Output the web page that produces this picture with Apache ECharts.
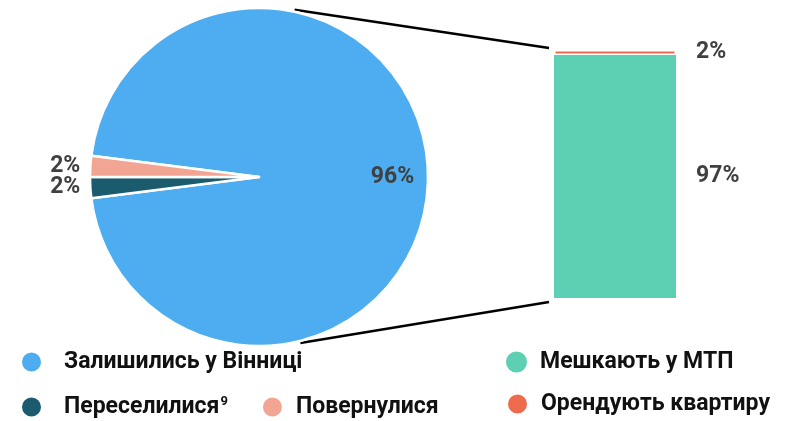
<!DOCTYPE html>
<html>
<head>
<meta charset="utf-8">
<script src="https://cdn.jsdelivr.net/npm/echarts@6/dist/echarts.min.js"></script>
<style>html,body{margin:0;padding:0;background:#fff}#c{width:789px;height:421px}</style>
</head>
<body>
<div id="c"></div>
<script>
// ---- data ----
const pieNames = ['Залишились у Вінниці', 'Переселилися', 'Повернулися'];
const pieValues = [96, 2, 2];
const pieColors = ['#4EADF1', '#1A5B6E', '#F3A593'];
const barNames = ['Мешкають у МТП', 'Орендують квартиру'];
const barValues = [97, 2];
const barColors = ['#5DCFB2', '#EE6B4D'];
const barCategory = ['МТП'];

const FONT = 'Roboto';
const labelColor = '#404040';
const cx = 259, cy = 177, R = 169;
const barW = 122;

const chart = echarts.init(document.getElementById('c'), null, {renderer: 'canvas'});

const pieData = pieNames.map((n, i) => ({
  name: n, value: pieValues[i], itemStyle: {color: pieColors[i]},
  label: i === 0
    ? {position: 'inside', offset: [46, 0]}
    : {position: 'outside', distanceToLabelLine: 10, lineHeight: 18},
  labelLine: {show: false, length: 0, length2: 0}
}));

const LF = 23;
const legendRich = {
  a: {fontFamily: FONT, fontWeight: 'bold', fontSize: LF, color: '#111', padding: [0, 0, 0, 17]},
  c: {fontFamily: FONT, fontWeight: 'bold', fontSize: LF, color: '#111', padding: [0, 0, 0, 8]},
  sup: {fontFamily: FONT, fontWeight: 'bold', fontSize: 13, color: '#111', verticalAlign: 'top', padding: [0, 0, 10, 1]}
};

function legendFmt(name) {
  if (name === pieNames[0]) return '{a|' + name + '}';
  if (name === pieNames[1]) return '{a|' + name + '}{sup|9}';
  return '{c|' + name + '}';
}

const legendBase = {
  icon: 'circle', itemWidth: 21, itemHeight: 21, selectedMode: false, padding: 0,
  formatter: legendFmt, textStyle: {rich: legendRich, lineHeight: 24}
};

const valLabel = {color: labelColor, fontFamily: FONT, fontWeight: 'bold', fontSize: 23};

const option = {
  animation: false,
  backgroundColor: '#fff',
  legend: [
    Object.assign({}, legendBase, {data: [pieNames[0]], left: 20, top: 350}),
    Object.assign({}, legendBase, {data: [pieNames[1], pieNames[2]], left: 20, top: 395, itemGap: 33}),
    Object.assign({}, legendBase, {data: [barNames[0]], left: 506, top: 350}),
    Object.assign({}, legendBase, {data: [barNames[1]], left: 506, top: 392})
  ],
  grid: {left: 554, width: barW, top: 50, height: 248},
  xAxis: {type: 'category', data: barCategory, show: false},
  yAxis: {type: 'value', min: 0, max: barValues[0] + barValues[1], show: false},
  series: [
    {
      type: 'pie', center: [cx, cy], radius: R, startAngle: 172.8, clockwise: true,
      avoidLabelOverlap: false,
      labelLayout: {hideOverlap: false},
      itemStyle: {borderColor: '#fff', borderWidth: 2.5},
      label: Object.assign({formatter: '{c}%'}, valLabel),
      emphasis: {disabled: true},
      data: pieData
    },
    {
      type: 'bar', name: barNames[0], stack: 's', barWidth: barW,
      data: [barValues[0]], itemStyle: {color: barColors[0]},
      label: Object.assign({show: true, position: 'right', distance: 20, formatter: '{c}%'}, valLabel),
      emphasis: {disabled: true}
    },
    {
      type: 'bar', name: barNames[1], stack: 's', barWidth: barW,
      data: [barValues[1]], itemStyle: {color: barColors[1], borderColor: '#fff', borderWidth: 1.5},
      label: Object.assign({show: true, position: 'right', distance: 20, formatter: '{c}%'}, valLabel),
      emphasis: {disabled: true}
    }
  ]
};
chart.setOption(option);

// connector lines between pie and bar
const total = barValues[0] + barValues[1];
const topPx = chart.convertToPixel({xAxisIndex: 0, yAxisIndex: 0}, [0, total]);
const botPx = chart.convertToPixel({xAxisIndex: 0, yAxisIndex: 0}, [0, 0]);
const barLeft = topPx[0] - barW / 2;
const rr = R + 2;
const a1 = 78 * Math.PI / 180, a2 = -76 * Math.PI / 180;
const p1 = [cx + rr * Math.cos(a1), cy - rr * Math.sin(a1)];
const p2 = [cx + rr * Math.cos(a2), cy - rr * Math.sin(a2)];
chart.setOption({
  graphic: [
    {type: 'line', shape: {x1: p1[0], y1: p1[1], x2: barLeft - 5, y2: topPx[1] - 2}, style: {stroke: '#000', lineWidth: 2.5}},
    {type: 'line', shape: {x1: p2[0], y1: p2[1], x2: barLeft - 5, y2: botPx[1] + 4}, style: {stroke: '#000', lineWidth: 2.5}}
  ]
});
</script>
</body>
</html>
